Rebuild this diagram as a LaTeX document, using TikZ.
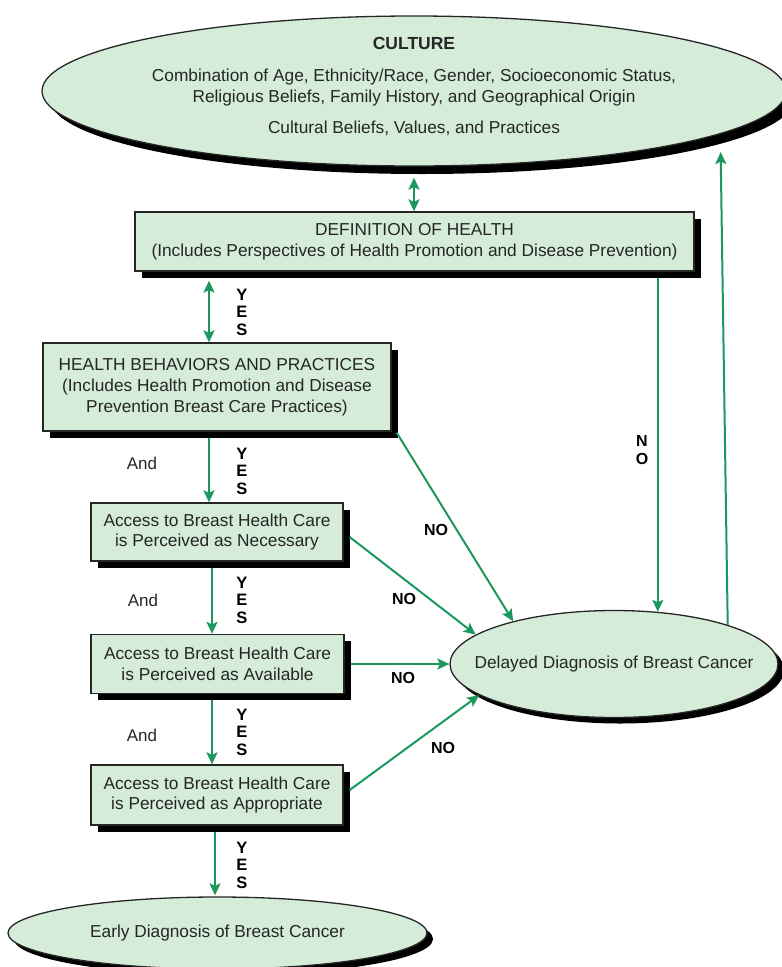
\documentclass[tikz,border=0pt]{standalone}
\usepackage{fontspec}
\setmainfont{Liberation Sans}
\usetikzlibrary{arrows.meta,shapes.geometric,shadows,calc}
\definecolor{boxfill}{RGB}{212,236,216}
\definecolor{arrgreen}{RGB}{28,152,92}
\definecolor{txtgray}{RGB}{38,38,38}
\begin{document}
\begin{tikzpicture}[x=1pt,y=-1pt,
  txt/.style={text=txtgray, font=\fontsize{17.3}{20.8}\selectfont, align=center},
  boxnode/.style={txt, rectangle, draw=black!85, line width=1.3pt, fill=boxfill, inner sep=0pt,
     drop shadow={shadow xshift=6.5pt, shadow yshift=-6.5pt, fill=black, opacity=1}},
  ellnode/.style={txt, ellipse, draw=black!85, line width=1.3pt, fill=boxfill, inner sep=0pt,
     drop shadow={shadow xshift=6pt, shadow yshift=-6pt, fill=black, opacity=1}},
  bigshadow/.style={drop shadow={shadow xshift=8pt, shadow yshift=-8pt, fill=black, opacity=1}},
  yesl/.style={font=\fontsize{16.5}{17.5}\selectfont\bfseries, align=center, inner sep=0pt},
  nol/.style={font=\fontsize{16}{17.5}\selectfont\bfseries, align=center, inner sep=0pt},
  andl/.style={font=\fontsize{17}{18}\selectfont, text=txtgray, inner sep=0pt},
  flow/.style={draw=arrgreen, line width=2pt, -{Stealth[length=12pt,width=11pt,inset=2.5pt]}},
  flowboth/.style={draw=arrgreen, line width=2pt, {Stealth[length=12pt,width=11pt,inset=2.5pt]}-{Stealth[length=12pt,width=11pt,inset=2.5pt]}},
]
\useasboundingbox (0,0) rectangle (782,967);

% nodes
\node[ellnode, bigshadow, minimum width=744pt, minimum height=150pt] (culture) at (414,91) {};
\node[txt] (culturetxt) at ($(culture.center)+(0,-4.5)$)
  {\fontsize{17.5}{20.8}\selectfont\bfseries CULTURE\\[11pt]
   Combination of Age, Ethnicity/Race, Gender, Socioeconomic Status,\\
   Religious Beliefs, Family History, and Geographical Origin\\[10pt]
   Cultural Beliefs, Values, and Practices};

\node[boxnode, minimum width=559pt, minimum height=59pt] (def) at (414.5,241.5)
  {DEFINITION OF HEALTH\\(Includes Perspectives of Health Promotion and Disease Prevention)};
\node[boxnode, minimum width=348pt, minimum height=88pt] (hb) at (217,387)
  {HEALTH BEHAVIORS AND PRACTICES\\(Includes Health Promotion and Disease\\Prevention Breast Care Practices)};
\node[boxnode, minimum width=252pt, minimum height=58pt] (nec) at (217,532)
  {Access to Breast Health Care\\is Perceived as Necessary};
\node[boxnode, minimum width=253pt, minimum height=59pt] (avail) at (217.5,664)
  {Access to Breast Health Care\\is Perceived as Available};
\node[boxnode, minimum width=252pt, minimum height=60pt] (appr) at (217,795)
  {Access to Breast Health Care\\is Perceived as Appropriate};
\node[ellnode, minimum width=328pt, minimum height=107pt] (delayed) at (614,664) {};
\node[txt] (delayedtxt) at (delayed.center) {Delayed Diagnosis of Breast Cancer};
\node[ellnode, minimum width=419pt, minimum height=72pt] (early) at (217.5,933) {};
\node[txt] (earlytxt) at (early.center) {Early Diagnosis of Breast Cancer};

% connectors
\draw[flowboth] ($(culture.south)+(0,11)$) -- (culture.south |- def.north);
\draw[flowboth] ($(hb.north |- def.south)+(-8,9)$) -- ($(hb.north)+(-8,0)$);
\draw[flow] ($(hb.south)+(-8,6)$) -- ($(hb.south |- nec.north)+(-8,0)$);
\draw[flow] ($(nec.south)+(-5,6)$) -- ($(nec.south |- avail.north)+(-5,0)$);
\draw[flow] ($(avail.south)+(-5.5,6)$) -- ($(avail.south |- appr.north)+(-5.5,0)$);
\draw[flow] ($(appr.south)+(-2,6)$) -- ($(appr.south |- early.north)+(-2,-1)$);

\draw[flow] ($(delayed.50 |- def.south)+(0,6)$) -- (delayed.50);
\draw[flow, shorten >=18pt] (delayed.19) -- (culture.-8);
\draw[flow] ($(hb.south east)+(5,1)$) -- (delayed.157);
\draw[flow] ($(nec.east)+(6,5)$) -- (delayed.168);
\draw[flow] ($(avail.east)+(6,0)$) -- (delayed.west);
\draw[flow] ($(appr.east)+(6,-5)$) -- (delayed.193);

% labels
\node[yesl] (yes1) at (242,312) {Y\\E\\S};
\node[yesl] (yes2) at (242,471) {Y\\E\\S};
\node[yesl] (yes3) at (242,600) {Y\\E\\S};
\node[yesl] (yes4) at (242,732) {Y\\E\\S};
\node[yesl] (yes5) at (242,865) {Y\\E\\S};
\node[nol] (no1) at (436,530) {NO};
\node[nol] (no2) at (404,599) {NO};
\node[nol] (no3) at (403,678) {NO};
\node[nol] (no4) at (443,748) {NO};
\node[nol] (no5) at (642,450) {N\\O};
\node[andl] (and1) at (142,463) {And};
\node[andl] (and2) at (143,600) {And};
\node[andl] (and3) at (142,735) {And};
\end{tikzpicture}
\end{document}
